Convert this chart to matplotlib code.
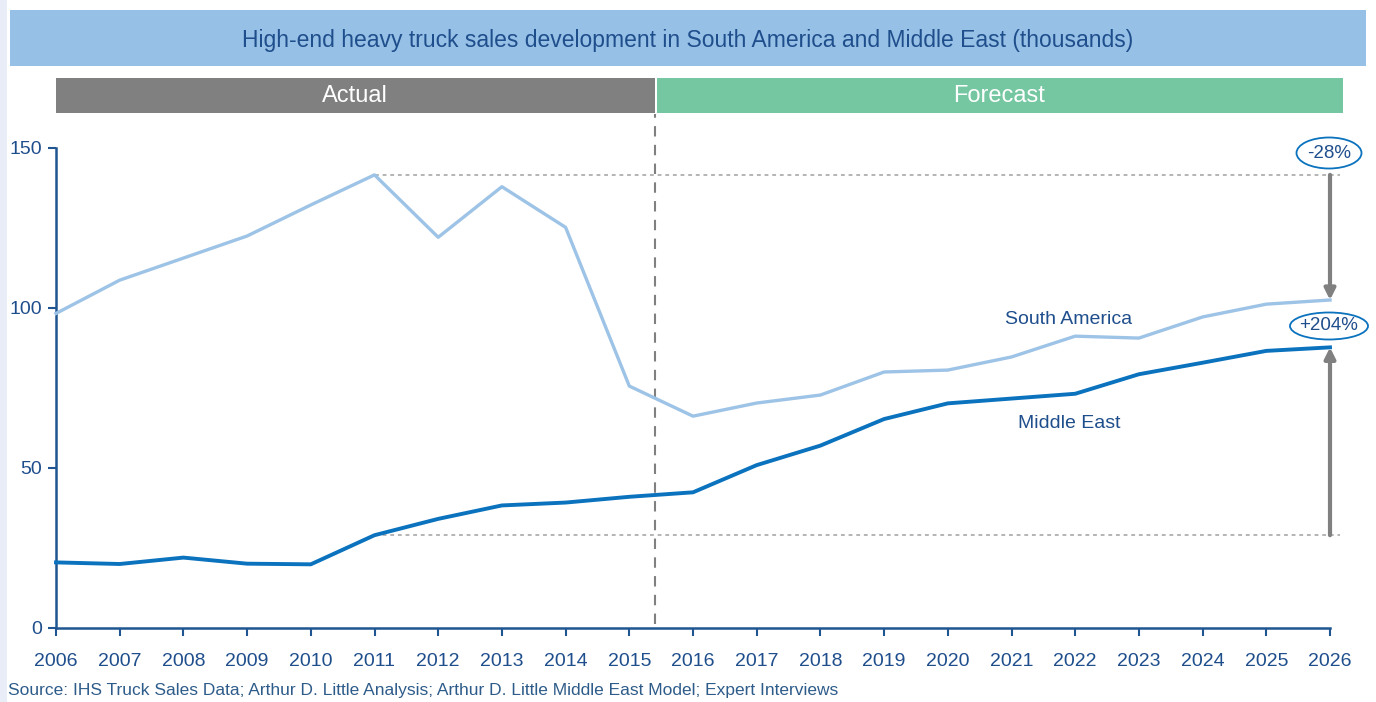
import matplotlib
matplotlib.use('Agg')
import matplotlib.pyplot as plt
from matplotlib.patches import Rectangle, Ellipse
from matplotlib.transforms import blended_transform_factory

plt.rcParams['font.family'] = ['Liberation Sans', 'DejaVu Sans']

# data (thousands of trucks)
years = list(range(2006, 2027))
south_america = [98.3, 108.7, 115.6, 122.5, 132.2, 141.6, 122.1, 137.9, 125.2, 75.6,
                 66.2, 70.3, 72.8, 80.0, 80.6, 84.7, 91.2, 90.6, 97.2, 101.2, 102.5]
middle_east = [20.5, 20.0, 22.0, 20.1, 19.9, 29.0, 34.1, 38.3, 39.2, 41.0,
               42.4, 50.9, 57.0, 65.3, 70.2, 71.7, 73.2, 79.3, 82.9, 86.6, 87.7]
yticks = [0, 50, 100, 150]
split_year = 2015.4
sa_change = '-28%'
me_change = '+204%'

dark_blue = '#1F4E8C'
axis_blue = '#1F5591'
sa_color = '#9DC3E6'
me_color = '#0B72BE'
grey = '#808080'

W, H = 1376, 702
fig = plt.figure(figsize=(W / 100, H / 100), dpi=100)
ax = fig.add_axes([56 / W, 1 - 628 / H, (1330 - 56) / W, (628 - 148) / H])

# light strip on the left edge
fig.add_artist(Rectangle((0, 0), 7 / W, 1, transform=fig.transFigure,
                         facecolor='#E8EDF8', edgecolor='none'))

# title banner
fig.add_artist(Rectangle((10 / W, 1 - 66 / H), (1366 - 10) / W, 56 / H,
                         transform=fig.transFigure, facecolor='#97C0E6', edgecolor='none'))
fig.text(688 / W, 1 - 40 / H,
         'High-end heavy truck sales development in South America and Middle East (thousands)',
         ha='center', va='center', fontsize=16.5, color=dark_blue)

# actual / forecast bars
bt = blended_transform_factory(ax.transData, fig.transFigure)
fig.add_artist(Rectangle((2006, 1 - 113 / H), split_year - 2006, 35 / H, transform=bt,
                         facecolor='#808080', edgecolor='none'))
fig.add_artist(Rectangle((split_year + 0.03, 1 - 113 / H), 2026.2 - split_year - 0.03, 35 / H,
                         transform=bt, facecolor='#74C7A0', edgecolor='none'))
fig.text((2006 + split_year) / 2, 1 - 96 / H, 'Actual', transform=bt,
         ha='center', va='center', fontsize=17, color='white')
fig.text((split_year + 2026.2) / 2, 1 - 96 / H, 'Forecast', transform=bt,
         ha='center', va='center', fontsize=17, color='white')

# lines
ax.plot(years, south_america, color=sa_color, lw=2.4, clip_on=False, zorder=3)
ax.plot(years, middle_east, color=me_color, lw=2.8, clip_on=False, zorder=3)

ax.set_xlim(2006, 2026)
ax.set_ylim(0, 150)

# split line
ax.plot([split_year, split_year], [0.008, 1.07], transform=ax.get_xaxis_transform(),
        color=grey, lw=1.5, ls=(0, (5, 4)), clip_on=False)

# reference dotted lines
sa_peak = max(south_america)
me_base = middle_east[years.index(2011)]
ax.plot([2011, 2026.15], [sa_peak, sa_peak], color='#A0A0A0', lw=1.1, ls=(0, (2.5, 2.5)),
        clip_on=False, zorder=1)
ax.plot([2011, 2026.15], [me_base, me_base], color='#A0A0A0', lw=1.1, ls=(0, (2.5, 2.5)),
        clip_on=False, zorder=1)

# change arrows
ax.annotate('', xy=(2026, south_america[-1]), xytext=(2026, sa_peak),
            arrowprops=dict(arrowstyle='-|>', color=grey, lw=3, mutation_scale=16,
                            shrinkA=0, shrinkB=0), annotation_clip=False)
ax.annotate('', xy=(2026, middle_east[-1]), xytext=(2026, me_base),
            arrowprops=dict(arrowstyle='-|>', color=grey, lw=3, mutation_scale=16,
                            shrinkA=0, shrinkB=0), annotation_clip=False)

# change labels in ellipses
for xc, yc, w, h, txt in [(1329, 153, 65, 31, sa_change), (1329, 326, 78, 27, me_change)]:
    fig.add_artist(Ellipse((xc / W, 1 - yc / H), w / W, h / H, transform=fig.transFigure,
                           facecolor='white', edgecolor=me_color, lw=1.3))
    fig.text(xc / W, 1 - yc / H, txt, ha='center', va='center', fontsize=13.5, color=dark_blue)

# series labels
ax.text(2021.9, (628 - 319) / 3.2, 'South America', ha='center', va='center',
        fontsize=14, color=dark_blue)
ax.text(2021.9, (628 - 424) / 3.2, 'Middle East', ha='center', va='center',
        fontsize=14, color=dark_blue)

# axes styling
for s in ['top', 'right']:
    ax.spines[s].set_visible(False)
for s in ['left', 'bottom']:
    ax.spines[s].set_color(axis_blue)
    ax.spines[s].set_linewidth(1.8)
ax.set_xticks(years)
ax.set_xticklabels([str(y) for y in years])
ax.set_yticks(yticks)
ax.tick_params(axis='both', colors=axis_blue, labelcolor=dark_blue, labelsize=14,
               length=6, width=1.5)
ax.tick_params(axis='x', pad=12)
ax.tick_params(axis='y', pad=4)
ax.patch.set_visible(False)

fig.text(8 / W, 1 - 691 / H,
         'Source: IHS Truck Sales Data; Arthur D. Little Analysis; Arthur D. Little Middle East Model; Expert Interviews',
         ha='left', va='center', fontsize=12.5, color='#2E5C8A')

fig.savefig('out.png', dpi=100)
